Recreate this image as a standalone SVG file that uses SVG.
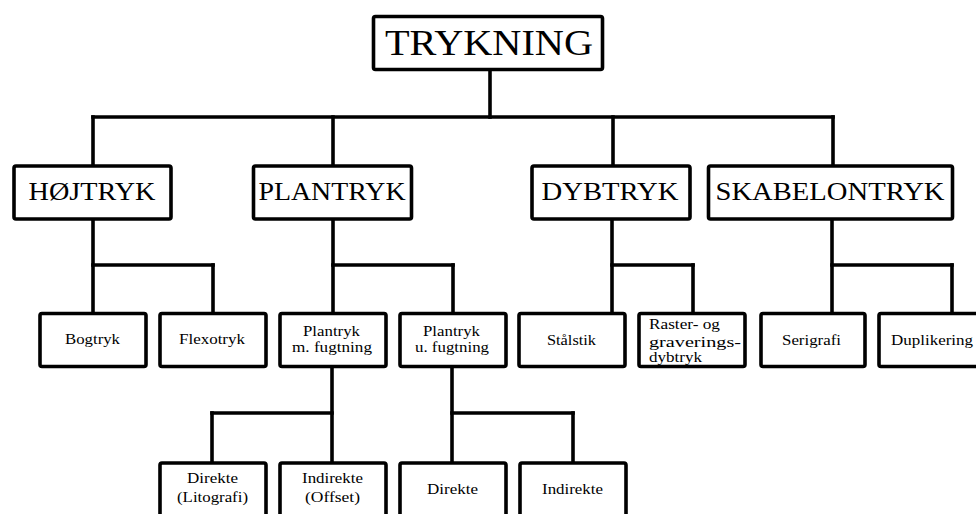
<svg xmlns="http://www.w3.org/2000/svg" width="976" height="514" viewBox="0 0 976 514">
<style>
rect{fill:#fff;stroke:#000;stroke-width:3.6}
.c line{stroke:#000;stroke-width:3.6;stroke-linecap:square}
text{fill:#000;text-anchor:middle;font-family:"Liberation Serif","Tinos","Noto Serif","DejaVu Serif","FreeSerif","Times New Roman",Times,serif}
text.s{text-anchor:start}
.t1{font-size:36px}
.t2{font-size:26px}
.t3{font-size:15.5px}
</style>
<rect x="0" y="0" width="976" height="514" style="stroke:none;fill:#fff"/>
<g class="c" id="connectors">
<line x1="490" y1="71" x2="490" y2="117"/>
<line x1="93" y1="117" x2="833" y2="117"/>
<line x1="93" y1="117" x2="93" y2="164"/>
<line x1="333" y1="117" x2="333" y2="164"/>
<line x1="613" y1="117" x2="613" y2="164"/>
<line x1="833" y1="117" x2="833" y2="164"/>
<line x1="93" y1="221" x2="93" y2="312"/>
<line x1="93" y1="265" x2="213" y2="265"/>
<line x1="213" y1="265" x2="213" y2="312"/>
<line x1="333" y1="221" x2="333" y2="312"/>
<line x1="333" y1="265" x2="453" y2="265"/>
<line x1="453" y1="265" x2="453" y2="312"/>
<line x1="612" y1="221" x2="612" y2="312"/>
<line x1="612" y1="265" x2="693" y2="265"/>
<line x1="693" y1="265" x2="693" y2="312"/>
<line x1="832" y1="221" x2="832" y2="312"/>
<line x1="832" y1="265" x2="952" y2="265"/>
<line x1="952" y1="265" x2="952" y2="312"/>
<line x1="332" y1="368" x2="332" y2="461"/>
<line x1="212" y1="413" x2="332" y2="413"/>
<line x1="212" y1="413" x2="212" y2="461"/>
<line x1="452" y1="368" x2="452" y2="461"/>
<line x1="452" y1="413" x2="573" y2="413"/>
<line x1="573" y1="413" x2="573" y2="461"/>
</g>
<g id="trykning"><rect x="373.5" y="16.5" width="229" height="53" rx="2"/><text class="t1" x="489" y="55" textLength="208" lengthAdjust="spacingAndGlyphs">TRYKNING</text></g>
<g id="hojtryk"><rect x="14" y="166" width="157" height="53" rx="2"/><text class="t2" x="92" y="200" textLength="127" lengthAdjust="spacingAndGlyphs">HØJTRYK</text></g>
<g id="plantryk"><rect x="253.5" y="166" width="158" height="53" rx="2"/><text class="t2" x="332" y="200" textLength="147" lengthAdjust="spacingAndGlyphs">PLANTRYK</text></g>
<g id="dybtryk"><rect x="532" y="166" width="158" height="53" rx="2"/><text class="t2" x="610" y="200" textLength="137" lengthAdjust="spacingAndGlyphs">DYBTRYK</text></g>
<g id="skabelontryk"><rect x="708.5" y="166" width="244" height="53" rx="2"/><text class="t2" x="830" y="200" textLength="229" lengthAdjust="spacingAndGlyphs">SKABELONTRYK</text></g>
<g id="bogtryk"><rect x="40" y="313.5" width="106" height="53" rx="2"/><text class="t3" x="92.5" y="344" textLength="55" lengthAdjust="spacingAndGlyphs">Bogtryk</text></g>
<g id="flexotryk"><rect x="160" y="313.5" width="106" height="53" rx="2"/><text class="t3" x="212" y="344" textLength="66" lengthAdjust="spacingAndGlyphs">Flexotryk</text></g>
<g id="plantryk-m"><rect x="280" y="313.5" width="106" height="53" rx="2"/><text class="t3" x="331.5" y="336" textLength="57" lengthAdjust="spacingAndGlyphs">Plantryk</text><text class="t3" x="332" y="352" textLength="80" lengthAdjust="spacingAndGlyphs">m. fugtning</text></g>
<g id="plantryk-u"><rect x="400" y="313.5" width="106" height="53" rx="2"/><text class="t3" x="451.5" y="336" textLength="57" lengthAdjust="spacingAndGlyphs">Plantryk</text><text class="t3" x="452" y="352" textLength="74" lengthAdjust="spacingAndGlyphs">u. fugtning</text></g>
<g id="stalstik"><rect x="519" y="313.5" width="106" height="53" rx="2"/><text class="t3" x="571.5" y="345" textLength="49" lengthAdjust="spacingAndGlyphs">Stålstik</text></g>
<g id="raster"><rect x="639" y="313.5" width="106" height="53" rx="2"/><text class="t3 s" x="649" y="329" textLength="71" lengthAdjust="spacingAndGlyphs">Raster- og</text><text class="t3 s" x="649" y="346.5" textLength="92" lengthAdjust="spacingAndGlyphs">graverings-</text><text class="t3 s" x="649" y="362" textLength="53" lengthAdjust="spacingAndGlyphs">dybtryk</text></g>
<g id="serigrafi"><rect x="761" y="313.5" width="104" height="53" rx="2"/><text class="t3" x="811.5" y="345" textLength="59" lengthAdjust="spacingAndGlyphs">Serigrafi</text></g>
<g id="duplikering"><rect x="879" y="313.5" width="106" height="53" rx="2"/><text class="t3" x="932" y="345" textLength="82" lengthAdjust="spacingAndGlyphs">Duplikering</text></g>
<g id="direkte-lito"><rect x="160" y="463" width="106" height="70" rx="2"/><text class="t3" x="212.5" y="483" textLength="51" lengthAdjust="spacingAndGlyphs">Direkte</text><text class="t3" x="212.5" y="501.5" textLength="71" lengthAdjust="spacingAndGlyphs">(Litografi)</text></g>
<g id="indirekte-offset"><rect x="280" y="463" width="106" height="70" rx="2"/><text class="t3" x="332.5" y="483" textLength="61" lengthAdjust="spacingAndGlyphs">Indirekte</text><text class="t3" x="332.5" y="501.5" textLength="55" lengthAdjust="spacingAndGlyphs">(Offset)</text></g>
<g id="direkte"><rect x="400" y="463" width="106" height="70" rx="2"/><text class="t3" x="452.5" y="494" textLength="51" lengthAdjust="spacingAndGlyphs">Direkte</text></g>
<g id="indirekte"><rect x="520" y="463" width="106" height="70" rx="2"/><text class="t3" x="572.5" y="494" textLength="61" lengthAdjust="spacingAndGlyphs">Indirekte</text></g>
</svg>
